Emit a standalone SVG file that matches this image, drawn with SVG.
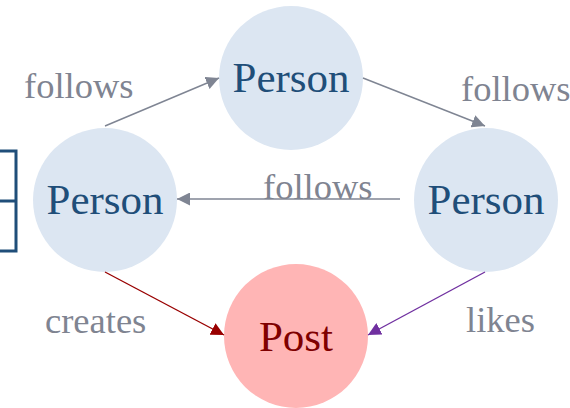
<svg xmlns="http://www.w3.org/2000/svg" width="570" height="408" viewBox="0 0 570 408">
  <style>
    text { font-family: 'Liberation Serif', 'Times New Roman', serif; }
    .person circle { fill: #dce6f2; }
    .person text { fill: #1f4e79; font-size: 43px; text-anchor: middle; }
    .post circle { fill: #ffb5b5; }
    .post text { fill: #7f0000; font-size: 43px; text-anchor: middle; }
    .label { fill: #7f8491; font-size: 36.5px; }
    .edge { fill: none; stroke-width: 1.4; }
    .follows { stroke: #7f8593; }
    .creates { stroke: #990000; }
    .likes { stroke: #7030a0; }
  </style>
  <defs>
    <marker id="head-gray" viewBox="0 0 10 10" refX="10" refY="5" markerWidth="13" markerHeight="13" markerUnits="userSpaceOnUse" orient="auto">
      <path d="M0,0 L10,5 L0,10 z" fill="#7f8593"/>
    </marker>
    <marker id="head-red" viewBox="0 0 10 10" refX="10" refY="5" markerWidth="13" markerHeight="13" markerUnits="userSpaceOnUse" orient="auto">
      <path d="M0,0 L10,5 L0,10 z" fill="#990000"/>
    </marker>
    <marker id="head-purple" viewBox="0 0 10 10" refX="10" refY="5" markerWidth="13" markerHeight="13" markerUnits="userSpaceOnUse" orient="auto">
      <path d="M0,0 L10,5 L0,10 z" fill="#7030a0"/>
    </marker>
  </defs>

  <!-- bracket at the left edge -->
  <path d="M0,151 H16 V251 H0 M0,201 H16" fill="none" stroke="#1f4e79" stroke-width="3"/>

  <g id="person-top" class="person">
    <circle cx="291" cy="78" r="72"/>
    <text x="291" y="92">Person</text>
  </g>
  <g id="person-left" class="person">
    <circle cx="105" cy="200" r="72"/>
    <text x="105" y="214">Person</text>
  </g>
  <g id="person-right" class="person">
    <circle cx="486" cy="200" r="72"/>
    <text x="486" y="214">Person</text>
  </g>
  <g id="post" class="post">
    <circle cx="296" cy="336" r="72"/>
    <text x="296" y="351">Post</text>
  </g>

  <g id="connectors">
    <line class="edge follows" x1="105" y1="126" x2="219" y2="78" marker-end="url(#head-gray)"/>
    <line class="edge follows" x1="363" y1="78" x2="485" y2="126" marker-end="url(#head-gray)"/>
    <line class="edge follows" x1="400" y1="199" x2="177" y2="199" marker-end="url(#head-gray)"/>
    <line class="edge creates" x1="105" y1="272" x2="224" y2="335" marker-end="url(#head-red)"/>
    <line class="edge likes" x1="485" y1="272" x2="368" y2="335" marker-end="url(#head-purple)"/>
    <text class="label" x="24" y="98">follows</text>
    <text class="label" x="461" y="101">follows</text>
    <text class="label" x="263" y="199">follows</text>
    <text class="label" x="45" y="333">creates</text>
    <text class="label" x="466" y="332">likes</text>
  </g>
</svg>
